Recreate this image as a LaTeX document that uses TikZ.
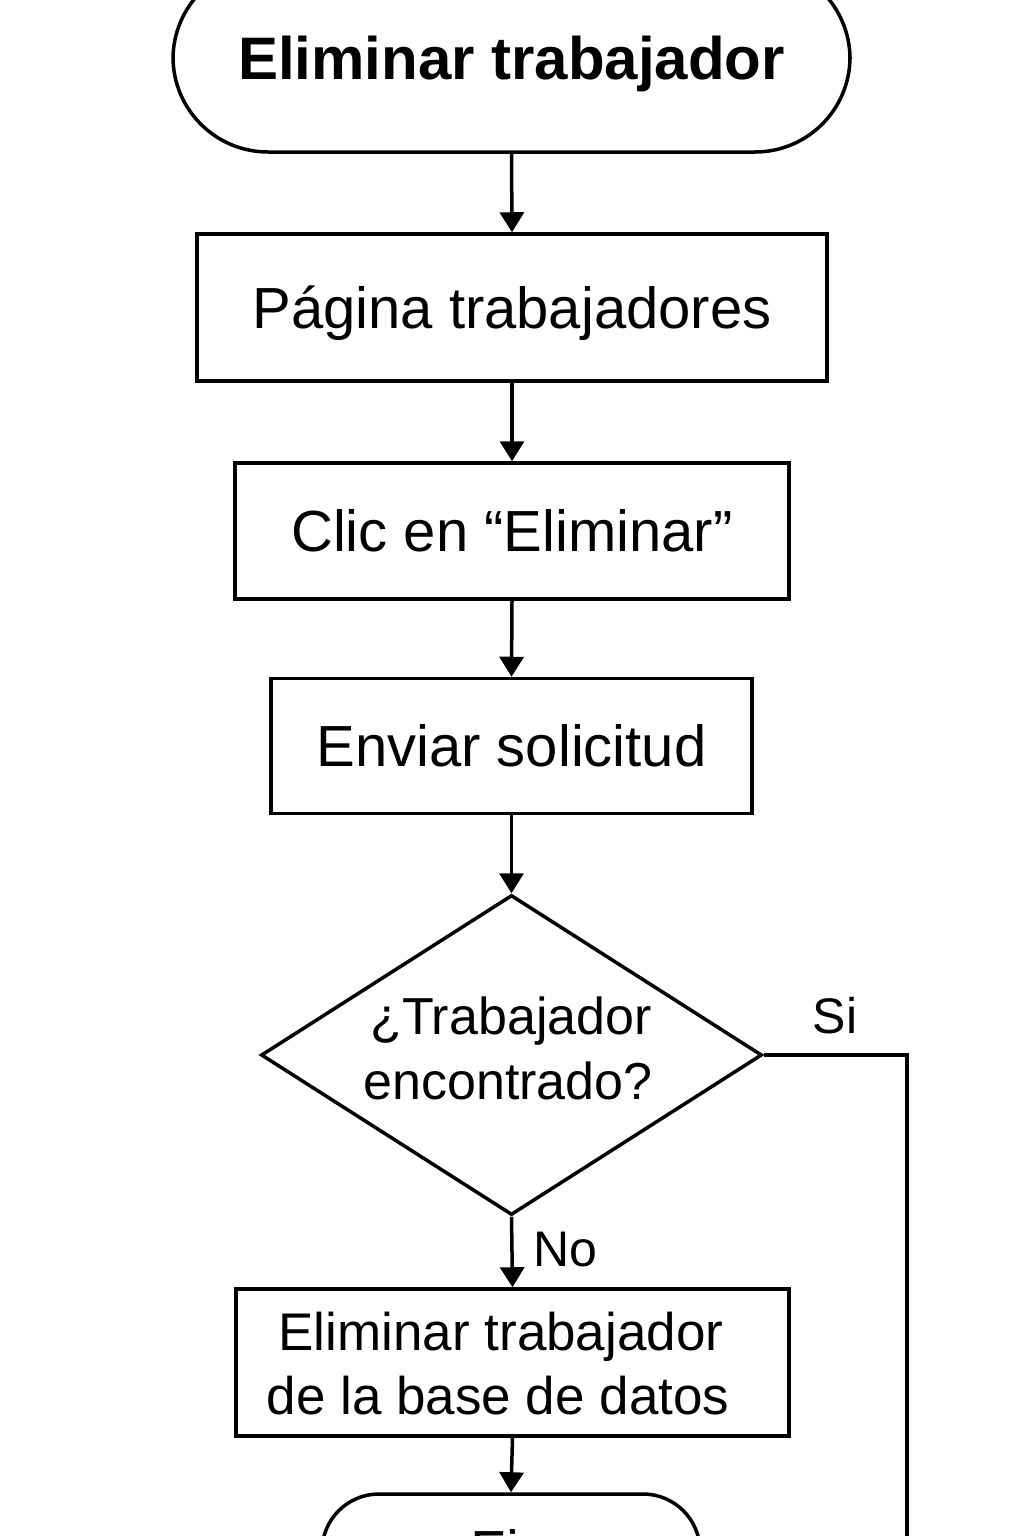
\documentclass[tikz,border=0pt]{standalone}
\usepackage{fontspec}
\setmainfont{Liberation Sans}
\usetikzlibrary{shapes.geometric,arrows.meta}
\tikzset{
  base/.style={draw=black, line width=3.5pt, inner sep=0pt, text depth=0pt},
  procbox/.style={base, rectangle},
  termbox/.style={base, rectangle},
  decbox/.style={draw=black, line width=3.5pt, inner sep=0pt, diamond, aspect=1.566},
  txt/.style={inner sep=0pt, anchor=base, font=\fontsize{52}{64}\selectfont},
  conn/.style={line width=3.5pt, -{Triangle[length=20pt,width=24pt]}},
  plain/.style={line width=3.5pt},
}
\begin{document}
\begin{tikzpicture}[x=1pt,y=-1pt]
\useasboundingbox (0,0) rectangle (1024,1536);
\clip (0,0) rectangle (1024,1536);
\fill[white] (0,0) rectangle (1024,1536);
% start terminal
\node[termbox, rounded corners=95pt, minimum width=677pt, minimum height=188pt, text height=43pt,
      font=\fontsize{60}{72}\selectfont\bfseries] (start) at (511.5,58) {Eliminar trabajador};
% process boxes
\node[procbox, minimum width=630pt, minimum height=147pt, text height=41.5pt, font=\fontsize{58}{70}\selectfont] (page) at (512,307.5) {Página trabajadores};
\node[procbox, minimum width=554pt, minimum height=136pt, text height=41.5pt, font=\fontsize{58}{70}\selectfont] (clic) at (512,531) {Clic en “Eliminar”};
\node[procbox, minimum width=481pt, minimum height=135pt, text height=41.5pt, font=\fontsize{58}{70}\selectfont] (send) at (511.5,746) {Enviar solicitud};
% decision
\node[decbox, minimum width=501pt, minimum height=320pt] (dec) at (511.5,1055) {};
\node[txt] (dq1) at (511,1034) {¿Trabajador};
\node[txt] (dq2) at (508,1099) {encontrado?};
% delete box
\node[procbox, minimum width=553pt, minimum height=147pt] (del) at (512.5,1362.5) {};
\node[txt, font=\fontsize{53}{64}\selectfont] (dl1) at (501,1350) {Eliminar trabajador};
\node[txt, font=\fontsize{53}{64}\selectfont] (dl2) at (498,1414) {de la base de datos};
% end terminal
\node[termbox, rounded corners=57pt, minimum width=378pt, minimum height=114pt, text height=41.5pt,
      font=\fontsize{58}{70}\selectfont] (fin) at (511,1551) {Fin};
% connectors
\draw[conn] (start.south) -- (page.north);
\draw[conn] (page.south) -- (clic.north);
\draw[conn] (clic.south) -- (send.north);
\draw[conn] (send.south) -- (dec.north);
\draw[conn] (dec.south) -- node[txt, anchor=base west, pos=0.5, xshift=20pt, yshift=-14pt, font=\fontsize{50}{60}\selectfont] (nolab) {No} (del.north);
\draw[conn] (del.south) -- (fin.north);
\coordinate (sicorner) at (907,1055);
\coordinate (siend) at (907,1620);
\draw[plain] (dec.east) -- (sicorner) -- (siend);
\node[txt, font=\fontsize{50}{60}\selectfont] (silab) at (835,1033) {Si};
\end{tikzpicture}
\end{document}
